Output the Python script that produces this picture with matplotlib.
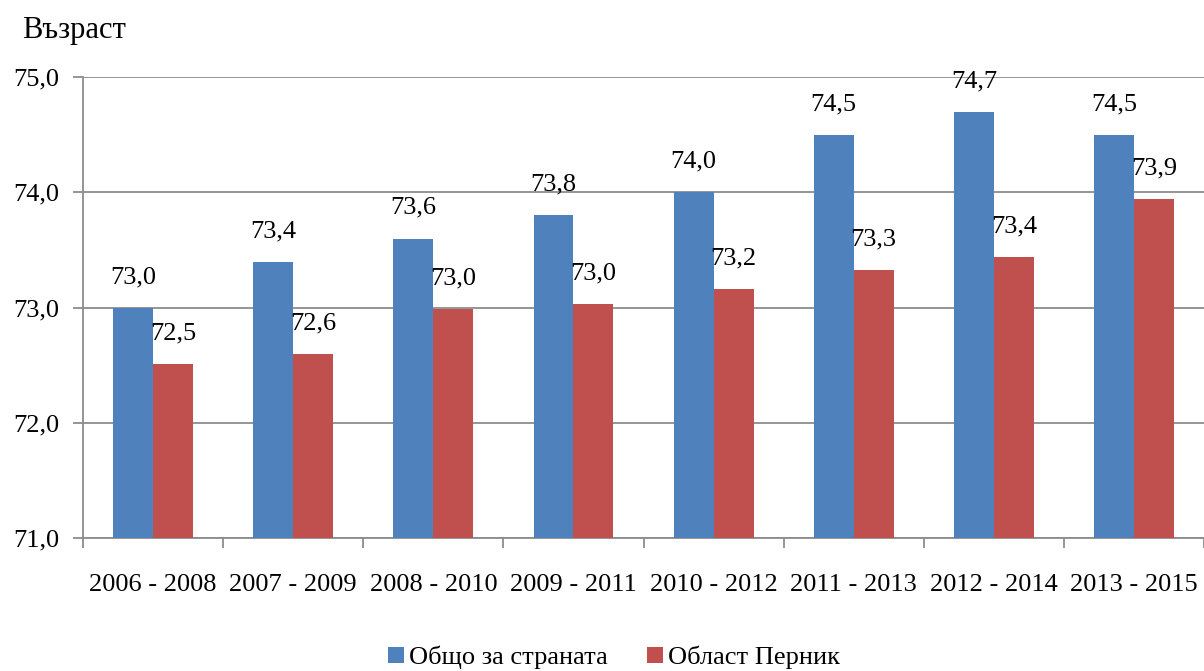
import numpy as np
import matplotlib.pyplot as plt

periods = ['2006 - 2008', '2007 - 2009', '2008 - 2010', '2009 - 2011',
           '2010 - 2012', '2011 - 2013', '2012 - 2014', '2013 - 2015']
country = [73.0, 73.4, 73.6, 73.8, 74.0, 74.5, 74.7, 74.5]
pernik = [72.51, 72.60, 72.99, 73.03, 73.16, 73.33, 73.44, 73.94]
y_ticks = [71.0, 72.0, 73.0, 74.0, 75.0]

plt.rcParams['font.family'] = ['Liberation Serif', 'DejaVu Serif']

fig = plt.figure(figsize=(12.04, 6.71), dpi=100)
ax = fig.add_axes([0.069, 0.198, 0.931, 0.687])

x = np.arange(len(periods))
w = 0.285
grid_c = '#8c8c8c'

b1 = ax.bar(x - w/2, [v - 71 for v in country], w, bottom=71, color='#4F81BD', label='Общо за страната', zorder=3)
b2 = ax.bar(x + w/2, [v - 71 for v in pernik], w, bottom=71, color='#C0504D', label='Област Перник', zorder=3)

for xi, v in zip(x - w/2, country):
    ax.text(xi, v + 0.17, f'{v:.1f}'.replace('.', ','), ha='center', va='bottom', fontsize=19, zorder=4)
for xi, v in zip(x + w/2, pernik):
    ax.text(xi, v + 0.17, f'{v:.1f}'.replace('.', ','), ha='center', va='bottom', fontsize=19, zorder=4)

ax.set_ylim(71, 75)
ax.set_xlim(-0.5, len(periods) - 0.5)
ax.set_yticks(y_ticks)
ax.set_yticklabels([f'{t:.1f}'.replace('.', ',') for t in y_ticks], fontsize=19)
ax.yaxis.grid(True, color=grid_c, linewidth=1.3, zorder=0)

ax.set_xticks(x)
ax.set_xticklabels(periods, fontsize=19)
ax.set_xticks(np.arange(len(periods) + 1) - 0.5, minor=True)
ax.tick_params(axis='x', which='major', length=0, pad=26)
ax.tick_params(axis='x', which='minor', length=7, color=grid_c, width=1.3)
ax.tick_params(axis='y', length=7, color=grid_c, width=1.3, pad=10)

for s in ['top', 'right']:
    ax.spines[s].set_visible(False)
for s in ['left', 'bottom']:
    ax.spines[s].set_color(grid_c)
    ax.spines[s].set_linewidth(1.3)

fig.text(0.018, 0.955, 'Възраст', fontsize=22, ha='left', va='center')

fig.legend(handles=[b1, b2], loc='center', bbox_to_anchor=(0.51, 0.02), ncol=2,
           frameon=False, fontsize=19, handlelength=0.6, handleheight=0.6,
           handletextpad=0.2, columnspacing=1.5)

fig.savefig('out.png', dpi=100)
